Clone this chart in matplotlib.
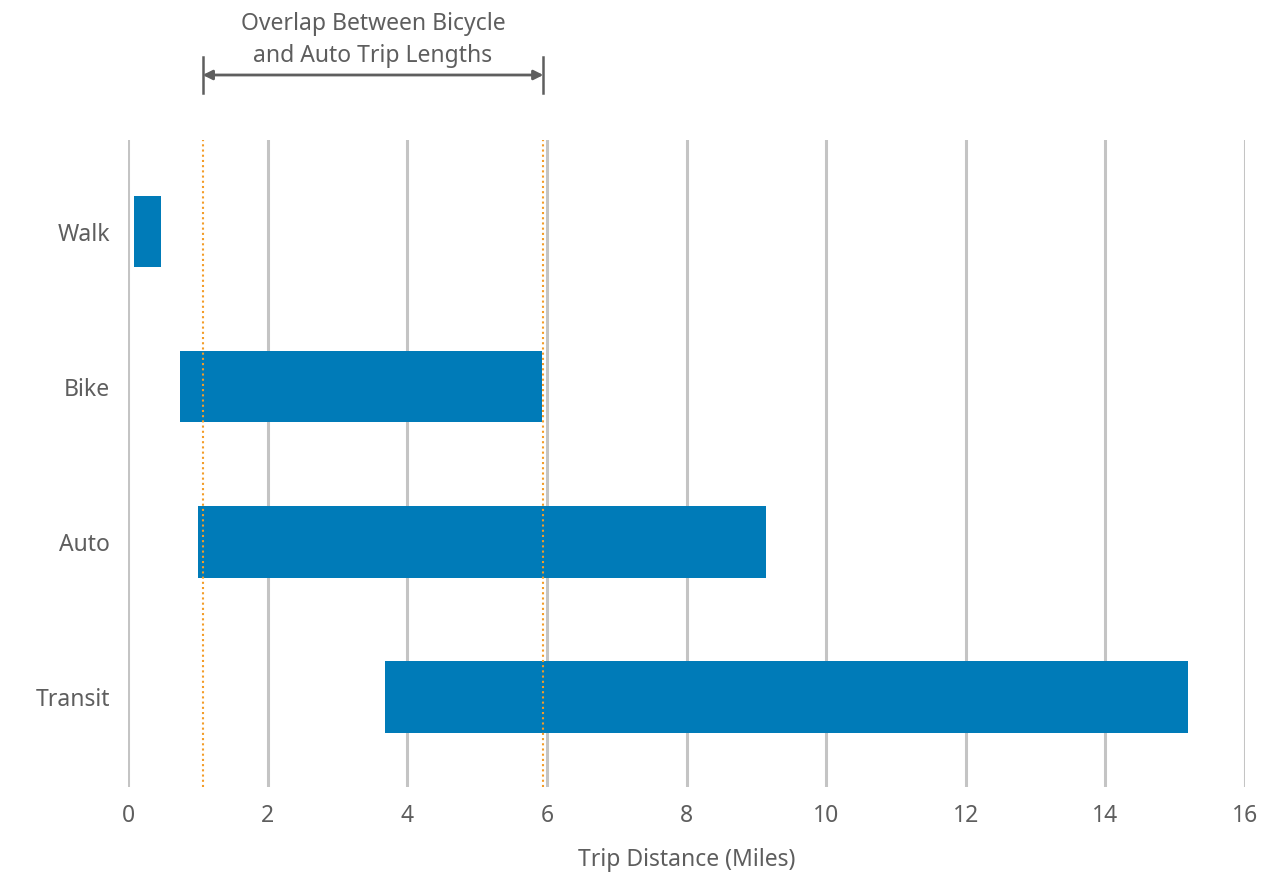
import matplotlib.pyplot as plt
from matplotlib.transforms import blended_transform_factory

plt.rcParams['font.family'] = ['Noto Sans', 'DejaVu Sans']

# Data
modes = ['Walk', 'Bike', 'Auto', 'Transit']
trip_start = [0.09, 0.75, 1.00, 3.68]
trip_end = [0.47, 5.93, 9.14, 15.19]
overlap = [1.07, 5.95]
xticks = [0, 2, 4, 6, 8, 10, 12, 14, 16]

bar_color = '#007BB8'
grid_color = '#C4C4C4'
text_color = '#5E5E5E'
orange = '#F39C28'
fs = 16.5

W, H = 1264, 874
fig = plt.figure(figsize=(W / 100, H / 100), dpi=100)
ax = fig.add_axes([128 / W, (H - 787) / H, (1245 - 128) / W, (787 - 140) / H])

widths = [e - s for s, e in zip(trip_start, trip_end)]
ax.barh(modes, widths, left=trip_start, height=0.46, color=bar_color, zorder=3)

ax.set_xlim(0, 16)
ax.set_ylim(3.58, -0.59)
ax.set_xticks(xticks)
ax.set_xticklabels([str(t) for t in xticks])
for t in xticks:
    ax.axvline(t, color=grid_color, lw=2.2, zorder=1)

for s in ax.spines.values():
    s.set_visible(False)
ax.tick_params(axis='both', length=0, labelsize=fs, colors=text_color)
ax.tick_params(axis='x', pad=12)
ax.tick_params(axis='y', pad=13)
ax.set_xlabel('Trip Distance (Miles)', fontsize=fs, color=text_color, labelpad=15)

# overlap markers
for v in overlap:
    ax.axvline(v, color=orange, lw=1.5, ls=(0, (1, 1.5)), zorder=4)

trans = blended_transform_factory(ax.transData, ax.transAxes)
ya = 1.0 + 65 / 647
ax.annotate('', xy=(overlap[0], ya), xytext=(overlap[1], ya), xycoords=trans,
            textcoords=trans, annotation_clip=False,
            arrowprops=dict(arrowstyle='<|-|>', color=text_color, lw=2,
                            mutation_scale=14, shrinkA=0, shrinkB=0))
for v in overlap:
    ax.plot([v, v], [ya - 0.028, ya + 0.028], transform=trans, color=text_color,
            lw=1.8, clip_on=False)
ax.text((overlap[0] + overlap[1]) / 2, 1.0 + (140 - 40) / 647,
        'Overlap Between Bicycle\nand Auto Trip Lengths', transform=trans,
        ha='center', va='center', fontsize=fs, color=text_color, linespacing=1.42)

fig.savefig('out.png', dpi=100, facecolor='white')
